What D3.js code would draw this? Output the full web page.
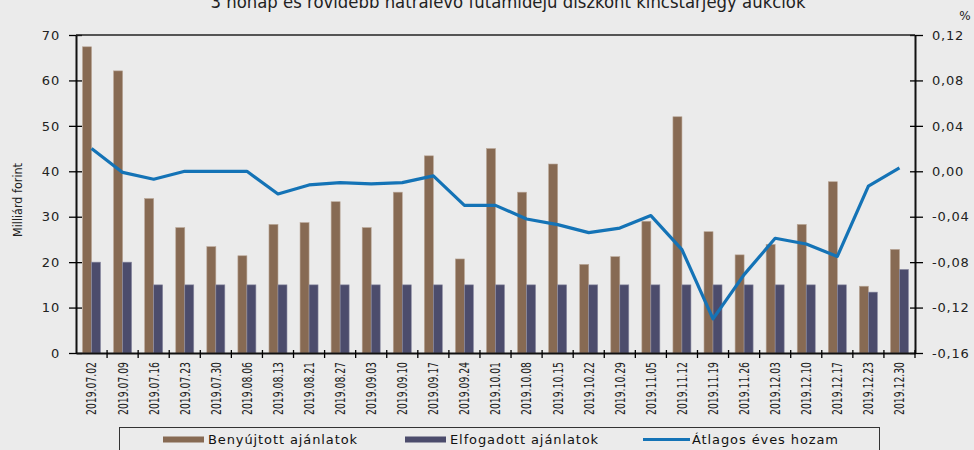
<!DOCTYPE html>
<html>
<head>
<meta charset="utf-8">
<script src="https://cdn.jsdelivr.net/npm/d3@7"></script>
<style>
  body { margin: 0; background: #ebebeb; }
  svg { display: block; }
</style>
</head>
<body>
<div id="svgcontainer"></div>
<script>
// Aukciok datumai
var datumok = ["2019.07.02", "2019.07.09", "2019.07.16", "2019.07.23", "2019.07.30", "2019.08.06",
    "2019.08.13", "2019.08.21", "2019.08.27", "2019.09.03", "2019.09.10", "2019.09.17", "2019.09.24",
    "2019.10.01", "2019.10.08", "2019.10.15", "2019.10.22", "2019.10.29", "2019.11.05", "2019.11.12",
    "2019.11.19", "2019.11.26", "2019.12.03", "2019.12.10", "2019.12.17", "2019.12.23", "2019.12.30"];
// Milliard forint
var benyujtott = [67.4, 62.1, 34.0, 27.6, 23.4, 21.4, 28.3, 28.7, 33.3, 27.6, 35.4, 43.4, 20.7,
    45.0, 35.4, 41.6, 19.5, 21.2, 29.0, 52.0, 26.7, 21.6, 23.9, 28.3, 37.7, 14.7, 22.8];
var elfogadott = [20, 20, 15, 15, 15, 15, 15, 15, 15, 15, 15, 15, 15,
    15, 15, 15, 15, 15, 15, 15, 15, 15, 15, 15, 15, 13.4, 18.4];
// Atlagos eves hozam, %
var hozam = [0.020, -0.001, -0.007, 0.000, 0.000, 0.000, -0.020, -0.012, -0.010, -0.011, -0.010, -0.004, -0.030,
    -0.030, -0.042, -0.047, -0.054, -0.050, -0.039, -0.069, -0.130, -0.091, -0.059, -0.064, -0.075, -0.013, 0.003];
var balTickek = [0, 10, 20, 30, 40, 50, 60, 70];
var jobbTickek = [-0.16, -0.12, -0.08, -0.04, 0, 0.04, 0.08, 0.12];
var sorozatok = ["Benyújtott ajánlatok", "Elfogadott ajánlatok", "Átlagos éves hozam"];

var barna = "#876a53";
var sotetkek = "#4c4c6c";
var kek = "#1473b6";

function createChart() {
    var width = 974;
    var height = 450;
    var left = 76, right = 915, top = 35, bottom = 353;
    var szukFont = "'Liberation Sans Narrow', 'DejaVu Sans Condensed', sans-serif";
    var tickFont = "'DejaVu Sans', Verdana, sans-serif";

    var svg = d3.select("#svgcontainer")
        .append("svg")
        .attr("width", width)
        .attr("height", height);

    svg.append("rect")
        .attr("width", width)
        .attr("height", height)
        .attr("fill", "#ebebeb");

    var x = d3.scaleBand().domain(datumok).range([left, right]);
    var xSub = d3.scaleBand().domain([0, 1]).range([-9, 9]);
    var yL = d3.scaleLinear().domain([0, 70]).range([bottom, top]);
    var yR = d3.scaleLinear().domain([-0.16, 0.12]).range([bottom, top]);
    var kozep = function (d) { return x(d) + x.bandwidth() / 2; };

    // cim (a kep tetejen levagva, mint az eredetiben)
    svg.append("text")
        .attr("x", 508)
        .attr("y", 8)
        .attr("text-anchor", "middle")
        .attr("textLength", 595)
        .attr("lengthAdjust", "spacingAndGlyphs")
        .style("font-family", szukFont)
        .style("font-size", "18px")
        .attr("fill", "#222")
        .text("3 hónap és rövidebb hátralévő futamidejű diszkont kincstárjegy aukciók");

    svg.append("text")
        .attr("x", 965)
        .attr("y", 20)
        .attr("text-anchor", "middle")
        .style("font-family", tickFont)
        .style("font-size", "12px")
        .attr("fill", "#222")
        .text("%");

    svg.append("text")
        .attr("transform", "translate(22,200) rotate(-90)")
        .attr("text-anchor", "middle")
        .attr("textLength", 74)
        .attr("lengthAdjust", "spacingAndGlyphs")
        .style("font-family", szukFont)
        .style("font-size", "13px")
        .attr("fill", "#222")
        .text("Milliárd forint");

    // oszlopok
    svg.append("g").selectAll("rect")
        .data(datumok)
        .join("rect")
        .attr("x", d => kozep(d) + xSub(0))
        .attr("y", (d, i) => yL(benyujtott[i]))
        .attr("width", xSub.bandwidth())
        .attr("height", (d, i) => yL(0) - yL(benyujtott[i]))
        .attr("fill", barna)
        .attr("stroke", "#b8a595")
        .attr("stroke-width", 0.6);

    svg.append("g").selectAll("rect")
        .data(datumok)
        .join("rect")
        .attr("x", d => kozep(d) + xSub(1))
        .attr("y", (d, i) => yL(elfogadott[i]))
        .attr("width", xSub.bandwidth())
        .attr("height", (d, i) => yL(0) - yL(elfogadott[i]))
        .attr("fill", sotetkek)
        .attr("stroke", "#8c8ca2")
        .attr("stroke-width", 0.6);

    // hozam vonal
    var vonal = d3.line()
        .x(d => kozep(d))
        .y((d, i) => yR(hozam[i]));
    svg.append("path")
        .datum(datumok)
        .attr("d", vonal)
        .attr("fill", "none")
        .attr("stroke", kek)
        .attr("stroke-width", 3.2)
        .attr("stroke-linejoin", "round");

    // tengelyek
    var balTengely = svg.append("g")
        .attr("transform", "translate(" + left + ",0)")
        .call(d3.axisLeft(yL).tickValues(balTickek).tickSize(7).tickSizeOuter(0).tickPadding(9));
    balTengely.selectAll(".tick line").attr("x1", 6).attr("stroke-width", 1.3);

    var jobbTengely = svg.append("g")
        .attr("transform", "translate(" + right + ",0)")
        .call(d3.axisRight(yR).tickValues(jobbTickek).tickSize(8).tickSizeOuter(0).tickPadding(9)
            .tickFormat(v => (v < -1e-9 ? "-" : "") + Math.abs(v).toFixed(2).replace(".", ",")));
    jobbTengely.selectAll(".tick line").attr("x1", -5).attr("stroke-width", 1.3);

    [balTengely, jobbTengely].forEach(function (g) {
        g.select(".domain").attr("stroke", "#111").attr("stroke-width", 2);
        g.selectAll(".tick text")
            .style("font-family", tickFont)
            .style("font-size", "13px")
            .style("letter-spacing", "0.8px")
            .attr("fill", "#222");
    });

    // also tengely, tickek a kategoriak hataran
    var also = svg.append("g")
        .attr("transform", "translate(0," + bottom + ")")
        .call(d3.axisBottom(x).tickSize(5).tickSizeOuter(0).tickPadding(9));
    also.select(".domain").attr("stroke", "#111").attr("stroke-width", 2);
    also.selectAll(".tick line")
        .attr("transform", "translate(" + (x.bandwidth() / 2) + ",0)")
        .attr("y1", -3)
        .attr("stroke-width", 1.3);
    also.selectAll(".tick text")
        .attr("transform", "rotate(-90)")
        .attr("x", -9)
        .attr("y", 0)
        .attr("dy", "0.35em")
        .attr("text-anchor", "end")
        .attr("textLength", 53)
        .attr("lengthAdjust", "spacingAndGlyphs")
        .style("font-family", szukFont)
        .style("font-size", "14px")
        .attr("fill", "#222");

    svg.append("line")
        .attr("x1", left)
        .attr("x2", right)
        .attr("y1", top)
        .attr("y2", top)
        .attr("stroke", "#222")
        .attr("stroke-width", 1.5);

    // jelmagyarazat
    svg.append("rect")
        .attr("x", 119.5)
        .attr("y", 427.5)
        .attr("width", 760)
        .attr("height", 40)
        .attr("fill", "none")
        .attr("stroke", "#333")
        .attr("stroke-width", 1);

    var jelX = [163, 405, 643];
    var jelSzin = [barna, sotetkek, kek];
    sorozatok.forEach(function (s, i) {
        if (i < 2) {
            svg.append("rect")
                .attr("x", jelX[i])
                .attr("y", 436.5)
                .attr("width", 41)
                .attr("height", 6)
                .attr("fill", jelSzin[i]);
        } else {
            svg.append("line")
                .attr("x1", jelX[i])
                .attr("x2", jelX[i] + 47)
                .attr("y1", 439.5)
                .attr("y2", 439.5)
                .attr("stroke", jelSzin[i])
                .attr("stroke-width", 3);
        }
        svg.append("text")
            .attr("x", jelX[i] + (i < 2 ? 45 : 49))
            .attr("y", 444)
            .style("font-family", tickFont)
            .style("font-size", "13px")
            .style("letter-spacing", "0.9px")
            .attr("fill", "#111")
            .text(s);
    });
}

createChart();
</script>
</body>
</html>
